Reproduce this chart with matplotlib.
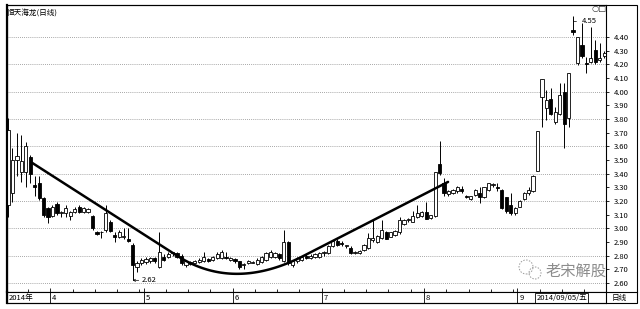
import numpy as np
import matplotlib
matplotlib.use("Agg")
import matplotlib.pyplot as plt
from matplotlib.patches import Rectangle, Ellipse

plt.rcParams['font.family'] = ['Noto Sans CJK SC', 'DejaVu Sans']

# 恒天海龙 日线 (2014-03 ~ 2014-09), 按K线顺序: 开, 收, 高, 低
opens = [3.17, 3.26, 3.50, 3.41, 3.41, 3.52, 3.32, 3.33, 3.22, 3.15,
         3.09, 3.18, 3.11, 3.11, 3.09, 3.12, 3.16, 3.12, 3.12, 3.09,
         2.97, 2.97, 2.99, 3.05, 2.955, 2.94, 2.94, 2.92, 2.88, 2.72,
         2.75, 2.755, 2.76, 2.78, 2.72, 2.79, 2.79, 2.82, 2.82, 2.80,
         2.73, 2.755, 2.75, 2.755, 2.76, 2.775, 2.77, 2.78, 2.78, 2.79,
         2.77, 2.775, 2.76, 2.73, 2.75, 2.75, 2.74, 2.755, 2.77, 2.79,
         2.79, 2.81, 2.76, 2.90, 2.73, 2.76, 2.77, 2.80, 2.78, 2.79,
         2.79, 2.82, 2.82, 2.87, 2.91, 2.89, 2.87, 2.86, 2.82, 2.82,
         2.84, 2.86, 2.915, 2.90, 2.93, 2.97, 2.94, 2.95, 2.97, 3.03,
         3.06, 3.05, 3.08, 3.09, 3.12, 3.075, 3.09, 3.47, 3.33, 3.255,
         3.26, 3.27, 3.29, 3.24, 3.215, 3.245, 3.26, 3.23, 3.28, 3.315,
         3.305, 3.28, 3.23, 3.17, 3.11, 3.16, 3.215, 3.26, 3.27, 3.42,
         3.96, 3.88, 3.945, 3.78, 3.84, 4.00, 3.81, 4.45, 4.21, 4.34,
         4.21, 4.215, 4.305, 4.23, 4.26]
closes = [3.72, 3.50, 3.53, 3.49, 3.60, 3.40, 3.30, 3.22, 3.10, 3.08,
          3.16, 3.11, 3.12, 3.15, 3.12, 3.14, 3.12, 3.15, 3.14, 3.00,
          2.96, 2.97, 3.11, 2.98, 2.94, 2.97, 2.94, 2.91, 2.73, 2.75,
          2.77, 2.775, 2.78, 2.76, 2.83, 2.77, 2.81, 2.82, 2.79, 2.75,
          2.76, 2.74, 2.76, 2.77, 2.79, 2.76, 2.79, 2.81, 2.83, 2.78,
          2.78, 2.76, 2.72, 2.73, 2.76, 2.755, 2.77, 2.79, 2.82, 2.83,
          2.82, 2.78, 2.90, 2.75, 2.76, 2.78, 2.79, 2.78, 2.80, 2.81,
          2.82, 2.825, 2.87, 2.905, 2.88, 2.885, 2.875, 2.82, 2.83, 2.835,
          2.88, 2.93, 2.93, 2.945, 2.99, 2.925, 2.97, 2.98, 3.06, 3.06,
          3.06, 3.09, 3.11, 3.12, 3.07, 3.095, 3.41, 3.405, 3.26, 3.27,
          3.28, 3.30, 3.27, 3.23, 3.235, 3.28, 3.23, 3.30, 3.33, 3.32,
          3.295, 3.15, 3.13, 3.11, 3.15, 3.20, 3.26, 3.28, 3.38, 3.71,
          4.09, 3.94, 3.84, 3.85, 3.975, 3.76, 4.14, 4.44, 4.40, 4.26,
          4.20, 4.245, 4.215, 4.245, 4.28]
highs = [3.81, 3.59, 3.70, 3.68, 3.63, 3.54, 3.38, 3.38, 3.23, 3.16,
         3.17, 3.19, 3.13, 3.17, 3.13, 3.16, 3.17, 3.16, 3.15, 3.10,
         2.98, 2.98, 3.17, 3.06, 2.97, 2.99, 3.00, 3.00, 2.89, 2.76,
         2.78, 2.79, 2.79, 2.79, 2.97, 2.81, 2.83, 2.83, 2.83, 2.81,
         2.77, 2.76, 2.77, 2.78, 2.83, 2.78, 2.80, 2.83, 2.84, 2.83,
         2.79, 2.78, 2.765, 2.745, 2.77, 2.76, 2.78, 2.80, 2.83, 2.84,
         2.83, 2.82, 2.99, 2.91, 2.77, 2.79, 2.80, 2.81, 2.81, 2.82,
         2.83, 2.835, 2.88, 2.91, 2.925, 2.91, 2.88, 2.87, 2.835, 2.84,
         2.885, 2.965, 3.06, 2.95, 3.06, 2.98, 2.975, 2.985, 3.08, 3.065,
         3.075, 3.13, 3.17, 3.125, 3.19, 3.10, 3.415, 3.64, 3.37, 3.28,
         3.29, 3.31, 3.31, 3.245, 3.24, 3.285, 3.30, 3.305, 3.335, 3.335,
         3.33, 3.29, 3.23, 3.26, 3.155, 3.205, 3.265, 3.30, 3.39, 3.71,
         4.09, 4.01, 4.03, 3.89, 4.06, 4.06, 4.14, 4.55, 4.40, 4.50,
         4.255, 4.47, 4.38, 4.355, 4.30]
lows = [3.08, 3.19, 3.38, 3.34, 3.30, 3.33, 3.24, 3.21, 3.08, 3.04,
        3.08, 3.10, 3.08, 3.08, 3.06, 3.11, 3.11, 3.11, 3.11, 2.99,
        2.95, 2.93, 2.97, 2.97, 2.90, 2.93, 2.925, 2.90, 2.62, 2.68,
        2.73, 2.74, 2.75, 2.75, 2.71, 2.76, 2.78, 2.80, 2.785, 2.73,
        2.72, 2.735, 2.745, 2.75, 2.755, 2.755, 2.765, 2.775, 2.775, 2.775,
        2.765, 2.75, 2.70, 2.70, 2.74, 2.745, 2.735, 2.75, 2.765, 2.785,
        2.785, 2.77, 2.755, 2.73, 2.72, 2.75, 2.765, 2.775, 2.775, 2.785,
        2.785, 2.80, 2.815, 2.865, 2.87, 2.87, 2.86, 2.81, 2.815, 2.815,
        2.835, 2.85, 2.90, 2.895, 2.92, 2.92, 2.935, 2.945, 2.96, 3.025,
        3.045, 3.045, 3.075, 3.085, 3.065, 3.07, 3.08, 3.39, 3.24, 3.24,
        3.25, 3.26, 3.26, 3.22, 3.21, 3.24, 3.185, 3.225, 3.275, 3.305,
        3.27, 3.14, 3.11, 3.10, 3.10, 3.155, 3.21, 3.245, 3.265, 3.42,
        3.74, 3.79, 3.83, 3.76, 3.83, 3.59, 3.74, 4.415, 4.195, 4.245,
        4.14, 4.21, 4.20, 4.22, 4.25]

# 月份起点 (K线序号) 及标签
month_idx = [10, 31, 51, 71, 94, 115]
month_labels = ['4', '5', '6', '7', '8', '9']

# 手绘的圆弧底趋势线锚点 (K线序号, 价格)
trend_start = (5.4, 3.48)
trend_a = (38.0, 2.80)
trend_ctrl = (50.7, 2.535)
trend_b = (66.5, 2.80)
trend_end = (98.9, 3.34)

W, H = 640, 309


def fx(x):
    return x / W


def fy(y):
    return 1 - y / H


fig = plt.figure(figsize=(6.4, 3.09), dpi=100)
ax = fig.add_axes([fx(7), fy(292), fx(606) - fx(7), fy(5) - fy(292)])

n = len(opens)
idx = np.arange(n)
o = np.array(opens)
c = np.array(closes)
hi = np.array(highs)
lo = np.array(lows)

# 虚线网格
for lev in np.arange(2.6, 4.41, 0.2):
    ax.axhline(lev, color='#8a8a8a', lw=0.6, ls=(0, (1, 1.5)), zorder=0)

# 影线
ax.vlines(idx, lo, hi, color='black', lw=0.7, zorder=2)

# 实体
up = c >= o
bottoms = np.minimum(o, c)
heights = np.maximum(np.abs(c - o), 0.006)
ax.bar(idx[up], heights[up], bottom=bottoms[up], width=0.72,
       facecolor='white', edgecolor='black', linewidth=0.6, zorder=3)
ax.bar(idx[~up], heights[~up], bottom=bottoms[~up], width=0.72,
       facecolor='black', edgecolor='black', linewidth=0.6, zorder=3)

# 趋势线: 直线 + 圆弧底 + 直线
t = np.linspace(0, 1, 60)
bx = (1 - t) ** 2 * trend_a[0] + 2 * t * (1 - t) * trend_ctrl[0] + t ** 2 * trend_b[0]
by = (1 - t) ** 2 * trend_a[1] + 2 * t * (1 - t) * trend_ctrl[1] + t ** 2 * trend_b[1]
tx = np.concatenate([[trend_start[0]], bx, [trend_end[0]]])
ty = np.concatenate([[trend_start[1]], by, [trend_end[1]]])
ax.plot(tx, ty, color='black', lw=1.8, zorder=4, solid_capstyle='round')

# 最高/最低标注
ihi = int(np.argmax(hi))
ilo = int(np.argmin(lo))
ax.annotate('%.2f' % hi[ihi], xy=(ihi, hi[ihi]), xytext=(ihi + 2, hi[ihi] - 0.03),
            fontsize=5.5, va='center', ha='left',
            arrowprops=dict(arrowstyle='-', lw=0.5, color='black',
                            connectionstyle='angle,angleA=0,angleB=90,rad=0'))
ax.annotate('%.2f' % lo[ilo], xy=(ilo, lo[ilo]), xytext=(ilo + 2, lo[ilo]),
            fontsize=5.5, va='center', ha='left',
            arrowprops=dict(arrowstyle='->', lw=0.5, color='black',
                            shrinkA=0, shrinkB=0, mutation_scale=4))

ax.set_xlim(-0.225, 134.4)
ax.set_ylim(4.40 - 255 / 136.7, 4.40 + 32 / 136.7)

ax.yaxis.tick_right()
ax.set_yticks(np.round(np.arange(2.6, 4.41, 0.1), 2))
ax.set_yticklabels(['%.2f' % v for v in np.arange(2.6, 4.41, 0.1)])
ax.tick_params(axis='y', labelsize=5.5, length=2.5, width=0.6, pad=3, colors='black')
ax.set_xticks([m - 0.5 for m in month_idx])
ax.set_xticks(np.concatenate([np.arange(m - 0.5 + 5, m2 - 0.5, 5)
                              for m, m2 in zip([0] + month_idx, month_idx + [135])]),
              minor=True)
ax.tick_params(axis='x', which='both', direction='in', length=2, width=0.6,
               labelbottom=False)
ax.tick_params(axis='x', which='major', length=3)
for s in ax.spines.values():
    s.set_linewidth(0.8)
ax.spines['left'].set_linewidth(1.6)

ax.text(0.0, 0.985, '恒天海龙(日线)', transform=ax.transAxes, fontsize=5.5,
        va='top', ha='left')

# 日期栏
axd = fig.add_axes([fx(7), fy(303), fx(606) - fx(7), fy(292) - fy(303)])
axd.set_xlim(ax.get_xlim())
axd.set_ylim(0, 1)
axd.set_xticks([])
axd.set_yticks([])
for s in axd.spines.values():
    s.set_linewidth(0.8)
axd.spines['left'].set_linewidth(1.6)
axd.text(0.2, 0.45, '2014年', fontsize=5.5, va='center', ha='left')
for m, lab in zip(month_idx, month_labels):
    axd.axvline(m - 0.5, color='black', lw=0.6)
    axd.text(m - 0.1, 0.45, lab, fontsize=5.5, va='center', ha='left')
axd.text(118.8, 0.45, '2014/09/05/五', fontsize=5.5, va='center', ha='left',
         bbox=dict(boxstyle='square,pad=0.15', fc='white', ec='black', lw=0.6))

# 外框及右侧刻度栏
fig.patches.append(Rectangle((fx(7), fy(303)), fx(637) - fx(7), fy(5) - fy(303),
                             transform=fig.transFigure, fill=False, lw=0.8,
                             ec='black'))
fig.lines.append(plt.Line2D([fx(606), fx(637)], [fy(292), fy(292)],
                            transform=fig.transFigure, color='black', lw=0.8))
fig.text(fx(612), fy(298), '日线', fontsize=5.5, va='center', ha='left')
fig.text(fx(592), fy(8), '○□', fontsize=6, va='center', ha='left',
         family=['DejaVu Sans'], color='#333333')

# 水印
for cx, cy, r in [(526, 267, 7), (535, 273, 6)]:
    fig.patches.append(Ellipse((fx(cx), fy(cy)), 2 * r / W, 2 * r / H,
                               transform=fig.transFigure, fill=False,
                               ec='#9a9a9a', lw=0.7, ls=(0, (1.5, 1.5))))
fig.text(fx(545), fy(271), '老宋解股', fontsize=11, va='center', ha='left',
         color='#8c8c8c')

fig.savefig('out.png', dpi=100)
